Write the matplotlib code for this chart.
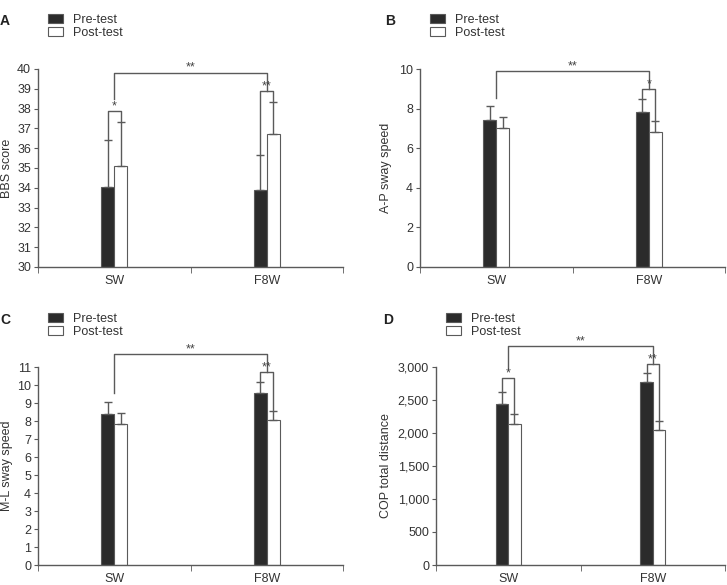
import numpy as np
import matplotlib.pyplot as plt
from matplotlib.patches import Patch
from matplotlib.ticker import FuncFormatter

plt.rcParams['font.family'] = ['Liberation Sans', 'DejaVu Sans']
plt.rcParams['font.size'] = 9

groups = ['SW', 'F8W']
legend_labels = ['Pre-test', 'Post-test']
panel_letters = ['A', 'B', 'C', 'D']
ylabels = ['BBS score', 'A-P sway speed', 'M-L sway speed', 'COP total distance']

# means and upper SD for each panel (SW, F8W)
bbs_pre, bbs_pre_sd = [34.05, 33.9], [2.35, 1.75]
bbs_post, bbs_post_sd = [35.1, 36.7], [2.2, 1.65]
ap_pre, ap_pre_sd = [7.42, 7.84], [0.72, 0.63]
ap_post, ap_post_sd = [7.0, 6.8], [0.58, 0.56]
ml_pre, ml_pre_sd = [8.38, 9.53], [0.68, 0.65]
ml_post, ml_post_sd = [7.86, 8.05], [0.59, 0.48]
cop_pre, cop_pre_sd = [2445, 2770], [180, 140]
cop_post, cop_post_sd = [2130, 2040], [165, 135]

# significance marks: small brackets (pre vs post) per group, big bracket between groups
bbs_small = [('*', 37.86), ('**', 38.89)]
ap_small = [None, ('*', 8.98)]
ml_small = [None, ('**', 10.7)]
cop_small = [('*', 2830), ('**', 3045)]
bbs_big = ('**', 39.81, 38.47)
ap_big = ('**', 9.9, 8.52)
ml_big = ('**', 11.72, 9.57)
cop_big = ('**', 3320, 2970)

ylims = [(30, 40), (0, 10), (0, 11), (0, 3000)]
yticks = [np.arange(30, 41, 1), np.arange(0, 11, 2), np.arange(0, 12, 1), np.arange(0, 3001, 500)]

panels = [
    (bbs_pre, bbs_pre_sd, bbs_post, bbs_post_sd, bbs_small, bbs_big),
    (ap_pre, ap_pre_sd, ap_post, ap_post_sd, ap_small, ap_big),
    (ml_pre, ml_pre_sd, ml_post, ml_post_sd, ml_small, ml_big),
    (cop_pre, cop_pre_sd, cop_post, cop_post_sd, cop_small, cop_big),
]

W, H = 727, 585
# axes boxes in pixels: left, right, top, bottom
boxes = [(38, 343, 69, 267), (420, 725, 69, 267), (38, 343, 367, 565), (436, 725, 367, 565)]
label_right = [13, 392, 13, 392]   # right edge of the rotated y label, px
letter_pos = [(0, 21), (385, 21), (0, 320), (383, 320)]
legend_pos = [(48, 14), (430, 14), (48, 313), (446, 313)]

dark = '#2b2b2b'
grey = '#5a5a5a'
w = 0.085

fig = plt.figure(figsize=(W / 100, H / 100), dpi=100)

for i, (pre, pre_sd, post, post_sd, small, big) in enumerate(panels):
    l, r, t, b = boxes[i]
    ax = fig.add_axes([l / W, 1 - b / H, (r - l) / W, (b - t) / H])
    x = np.arange(len(groups))
    ax.bar(x - w / 2, pre, w, color=dark, edgecolor=grey, linewidth=0.8)
    ax.bar(x + w / 2, post, w, color='white', edgecolor=grey, linewidth=0.8)
    ax.errorbar(x - w / 2, pre, yerr=[np.zeros(2), pre_sd], fmt='none',
                ecolor=grey, elinewidth=1, capsize=3, capthick=1)
    ax.errorbar(x + w / 2, post, yerr=[np.zeros(2), post_sd], fmt='none',
                ecolor=grey, elinewidth=1, capsize=3, capthick=1)

    # small brackets
    for j, s in enumerate(small):
        if s is None:
            continue
        lab, top = s
        x0, x1 = x[j] - w / 2, x[j] + w / 2
        y0 = pre[j] + pre_sd[j]
        y1 = post[j] + post_sd[j]
        ax.plot([x0, x0, x1, x1], [y0, top, top, y1], color=grey, lw=1, clip_on=False)
        ax.annotate(lab, (x[j], top), xytext=(0, 3.5), textcoords='offset points',
                    ha='center', va='center', fontsize=9, color='#444444',
                    annotation_clip=False)
    # big bracket
    lab, top, left_bottom = big
    right_bottom = small[1][1]
    ax.plot([0, 0, 1, 1], [left_bottom, top, top, right_bottom], color=grey, lw=1, clip_on=False)
    ax.annotate(lab, (0.5, top), xytext=(0, 3.5), textcoords='offset points',
                ha='center', va='center', fontsize=9, color='#444444',
                annotation_clip=False)

    ax.set_xlim(-0.5, 1.5)
    ax.set_ylim(*ylims[i])
    ax.set_yticks(yticks[i])
    if i == 3:
        ax.yaxis.set_major_formatter(FuncFormatter(lambda v, p: f'{int(v):,}'))
    ax.set_xticks(x)
    ax.set_xticklabels(groups)
    ax.set_xticks([-0.5, 0.5, 1.5], minor=True)
    ax.tick_params(axis='x', which='major', length=0, pad=6, labelsize=9, labelcolor='#333333')
    ax.tick_params(axis='x', which='minor', length=4, direction='out', color=grey)
    ax.tick_params(axis='y', length=3, direction='out', color=grey, labelsize=9,
                   labelcolor='#333333', pad=2)
    for sp in ['top', 'right']:
        ax.spines[sp].set_visible(False)
    for sp in ['left', 'bottom']:
        ax.spines[sp].set_color(grey)
        ax.spines[sp].set_linewidth(1)
    ax.set_ylabel(ylabels[i], fontsize=9, color='#333333')
    ax.yaxis.set_label_coords((label_right[i] - l) / (r - l), 0.5)

    lx, ly = letter_pos[i]
    fig.text(lx / W, 1 - ly / H, panel_letters[i], fontsize=10, fontweight='bold',
             ha='left', va='center', color='#222222')
    gx, gy = legend_pos[i]
    handles = [Patch(facecolor=dark, edgecolor=grey, linewidth=0.8),
               Patch(facecolor='white', edgecolor=grey, linewidth=0.8)]
    fig.legend(handles, legend_labels, loc='upper left', bbox_to_anchor=(gx / W, 1 - gy / H),
               frameon=False, fontsize=9, handlelength=1.2, handleheight=0.7,
               handletextpad=0.8, labelspacing=0.05, borderpad=0, borderaxespad=0,
               labelcolor='#333333')

fig.savefig('out.png', dpi=100)
